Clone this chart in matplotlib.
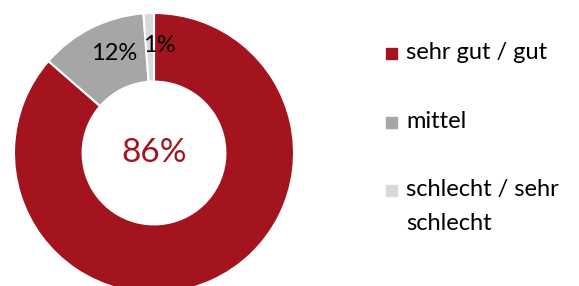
import matplotlib.pyplot as plt
from matplotlib.patches import Rectangle

plt.rcParams['font.family'] = ['Lato', 'DejaVu Sans']

labels = ['sehr gut / gut', 'mittel', 'schlecht / sehr\nschlecht']
values = [86.4, 12.4, 1.2]
colors = ['#A3141F', '#A6A6A6', '#D9D9D9']

W, H = 579, 286
fig = plt.figure(figsize=(W / 100, H / 100), dpi=100)

# donut: centre ~(154,153) px, outer radius ~140 px
cx, cy, r = 154, 153, 140
ax = fig.add_axes([(cx - r) / W, (H - cy - r) / H, 2 * r / W, 2 * r / H])
wedges, texts, autotexts = ax.pie(
    values, colors=colors, startangle=90, counterclock=False,
    wedgeprops=dict(width=0.49, edgecolor='white', linewidth=1.5),
    autopct=lambda p: f'{p:.0f}%', pctdistance=0.77,
    textprops=dict(fontsize=17, color='black'))
ax.set_xlim(-1, 1)
ax.set_ylim(-1, 1)
ax.set_aspect('equal')

# big value in the middle
autotexts[0].set_position((0, 0))
autotexts[0].set_color(colors[0])
autotexts[0].set_fontsize(24)
# nudge the slice labels to where they sit in the original
x, y = autotexts[1].get_position()
autotexts[1].set_position((x + 0.06, y + 0.02))
x, y = autotexts[2].get_position()
autotexts[2].set_position((x + 0.07, y))

# legend drawn by hand so the square lines up with the first text line
rows_y = [53, 122, 190]
for lab, col, yy in zip(labels, colors, rows_y):
    fig.patches.append(Rectangle((386 / W, (H - yy - 5.5) / H), 11 / W, 11 / H,
                                 transform=fig.transFigure, color=col))
    fig.text(406 / W, (H - yy + 11) / H, lab, fontsize=17, va='top',
             ha='left', linespacing=1.75)

fig.savefig('out.png', dpi=100)
